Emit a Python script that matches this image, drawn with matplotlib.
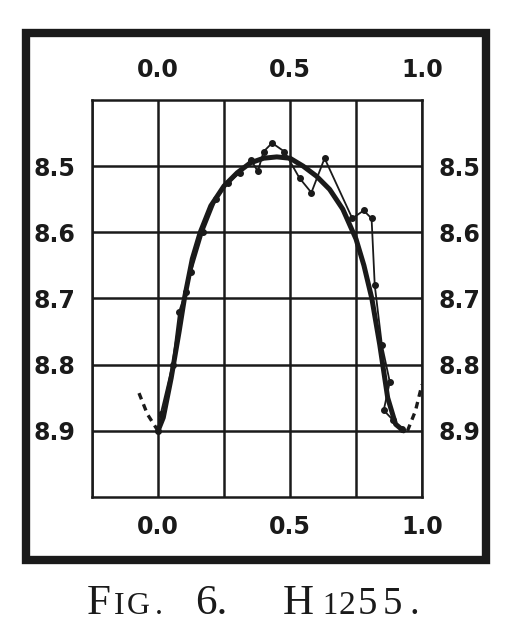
#!/usr/bin/env python3
"""
Light curve of H1255 (Fig. 6), redrawn from a printed plate.
"""

import matplotlib
matplotlib.use("Agg")
import matplotlib.pyplot as plt
from matplotlib.patches import Rectangle

# Observed normal points (phase, magnitude)
obs_phase = [0.0, 0.01, 0.055, 0.08, 0.105, 0.125, 0.17, 0.22, 0.265, 0.31,
             0.352, 0.378, 0.40, 0.432, 0.479, 0.536, 0.581, 0.631, 0.736,
             0.779, 0.809, 0.821, 0.848, 0.878, 0.855, 0.891, 0.923]
obs_mag = [8.90, 8.875, 8.80, 8.72, 8.69, 8.66, 8.60, 8.55, 8.525, 8.51,
           8.49, 8.508, 8.478, 8.465, 8.478, 8.518, 8.540, 8.488, 8.579,
           8.567, 8.579, 8.68, 8.77, 8.826, 8.869, 8.884, 8.897]

# Mean (smoothed) light curve
curve_phase = [0.0, 0.02, 0.05, 0.08, 0.10, 0.13, 0.16, 0.20, 0.25, 0.30,
               0.35, 0.40, 0.45, 0.50, 0.55, 0.60, 0.65, 0.70, 0.75, 0.78,
               0.81, 0.84, 0.87, 0.90, 0.93]
curve_mag = [8.90, 8.88, 8.82, 8.75, 8.70, 8.64, 8.60, 8.56, 8.53, 8.51,
             8.495, 8.488, 8.486, 8.488, 8.50, 8.515, 8.535, 8.565, 8.61,
             8.65, 8.70, 8.77, 8.85, 8.89, 8.90]

# Dashed continuations at either end
left_phase = [-0.072, -0.04, 0.0]
left_mag = [8.843, 8.875, 8.90]
right_phase = [0.945, 0.975, 1.0]
right_mag = [8.90, 8.87, 8.83]

phase_labels = ["0.0", "0.5", "1.0"]
mag_labels = ["8.5", "8.6", "8.7", "8.8", "8.9"]

# caption pieces: (text, left edge in px, font size)
caption = [("F", 87, 31), ("I", 114, 23), ("G", 127, 23), (".", 155, 23),
           ("6.", 195, 31), ("H", 283, 31),
           ("1", 322, 22), ("2", 338, 24), ("5", 358, 28), ("5", 383, 28),
           (".", 410, 28)]

W, H = 512, 644
INK = "#1a1a1a"


def draw_chart():
    fig = plt.figure(figsize=(W / 100, H / 100), dpi=100)
    fig.patch.set_facecolor("white")

    # thick outer frame
    fig.patches.append(Rectangle((26 / W, 1 - 559.5 / H), 460 / W, 527 / H,
                                 transform=fig.transFigure, fill=False,
                                 edgecolor=INK, linewidth=6.0))

    ax = fig.add_axes([92 / W, 1 - 497 / H, 330 / W, 397 / H])
    ax.set_xlim(-0.25, 1.0)
    ax.set_ylim(9.0, 8.4)

    ax.set_xticks([float(s) for s in phase_labels])
    ax.set_xticklabels(phase_labels)
    ax.set_xticks([-0.25, 0.25, 0.75], minor=True)
    ax.set_yticks([float(s) for s in mag_labels])
    ax.set_yticklabels(mag_labels)

    ax.tick_params(which="both", length=0, top=True, labeltop=True,
                   right=True, labelright=True, labelsize=17)
    ax.tick_params(axis="x", pad=13)
    ax.tick_params(axis="y", pad=12)
    for lab in ax.get_xticklabels() + ax.get_yticklabels():
        lab.set_fontweight("bold")
        lab.set_color(INK)
    ax.grid(True, which="both", color=INK, linewidth=1.8)
    for sp in ax.spines.values():
        sp.set_linewidth(1.8)
        sp.set_color(INK)

    ax.plot(curve_phase, curve_mag, color=INK, linewidth=3.6,
            solid_capstyle="round", solid_joinstyle="round", zorder=3)
    ax.plot(obs_phase, obs_mag, color=INK, linewidth=1.3,
            marker="o", markersize=4, zorder=4)
    for xs, ys in [(left_phase, left_mag), (right_phase, right_mag)]:
        ax.plot(xs, ys, color=INK, linewidth=2.4,
                linestyle=(0, (2.0, 1.6)), zorder=3)

    # caption in small capitals
    for txt, x, size in caption:
        fig.text(x / W, 1 - 614 / H, txt, fontsize=size, ha="left",
                 va="baseline", family="Liberation Serif", color=INK)
    return fig


def main():
    fig = draw_chart()
    fig.savefig("out.png", dpi=100)


if __name__ == "__main__":
    main()
